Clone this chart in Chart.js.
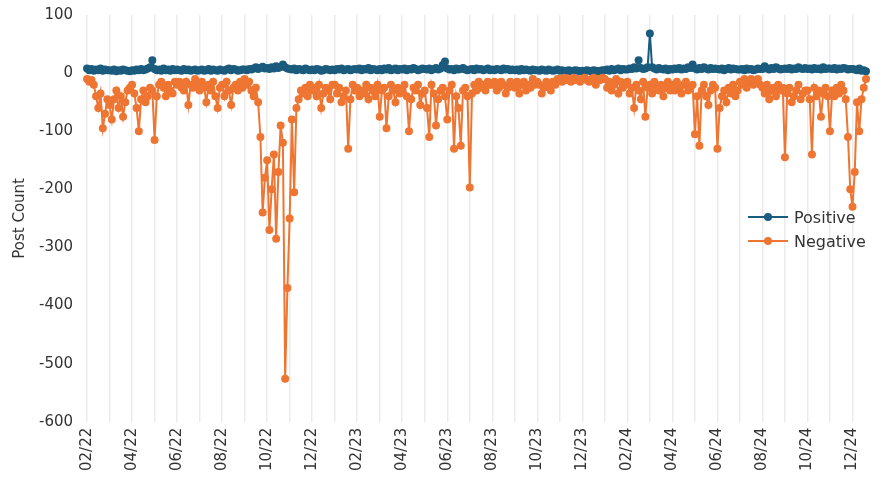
<!DOCTYPE html>
<html>
<head>
<meta charset="utf-8">
<script src="https://cdn.jsdelivr.net/npm/chart.js@4/dist/chart.umd.min.js"></script>
<style>
  html, body { margin: 0; padding: 0; background: #fff; }
  #wrap { position: relative; width: 890px; height: 477px; }
  #legend { position: absolute; left: 748px; top: 205px; font: 16px "DejaVu Sans", sans-serif; color: #333; }
  .item { display: flex; align-items: center; height: 24px; }
  .sym { position: relative; width: 40px; height: 10px; margin-right: 6px; }
  .sym .ln { position: absolute; left: 0; right: 0; top: 4px; height: 2px; }
  .sym .dt { position: absolute; left: 16px; top: 1px; width: 8px; height: 8px; border-radius: 50%; }
</style>
</head>
<body>
<div id="wrap">
  <canvas id="myChart" width="890" height="477"></canvas>
  <div id="legend">
    <div class="item"><div class="sym"><div class="ln" style="background:#1b5b7d"></div><div class="dt" style="background:#1b5b7d"></div></div>Positive</div>
    <div class="item"><div class="sym"><div class="ln" style="background:#ee7532"></div><div class="dt" style="background:#ee7532"></div></div>Negative</div>
  </div>
</div>
<script>
const months = ["02/22","03/22","04/22","05/22","06/22","07/22","08/22","09/22","10/22","11/22","12/22",
  "01/23","02/23","03/23","04/23","05/23","06/23","07/23","08/23","09/23","10/23","11/23","12/23",
  "01/24","02/24","03/24","04/24","05/24","06/24","07/24","08/24","09/24","10/24","11/24","12/24"];
const days = [1, 4, 7, 10, 13, 16, 19, 22, 25, 28];

// negative post counts, 10 samples per month (last month shorter)
const negative = [
  -10,-15,-12,-20,-40,-60,-35,-95,-70,-45,
  -55,-80,-45,-30,-60,-40,-75,-50,-30,-25,
  -20,-35,-60,-100,-45,-30,-50,-40,-25,-30,
  -115,-40,-20,-15,-25,-40,-20,-30,-35,-15,
  -20,-15,-25,-30,-15,-55,-20,-25,-10,-20,
  -30,-15,-25,-50,-20,-30,-15,-40,-60,-25,
  -20,-40,-15,-30,-55,-25,-20,-30,-15,-25,
  -10,-20,-15,-30,-40,-25,-50,-110,-240,-180,
  -150,-270,-200,-140,-285,-170,-90,-120,-526,-370,
  -250,-80,-205,-60,-45,-30,-35,-25,-40,-20,
  -30,-25,-40,-20,-60,-35,-25,-30,-45,-20,
  -20,-35,-25,-50,-40,-30,-130,-45,-20,-30,
  -25,-40,-30,-35,-20,-45,-25,-30,-40,-20,
  -75,-30,-25,-95,-40,-20,-30,-50,-25,-35,
  -30,-20,-40,-100,-45,-25,-30,-20,-55,-35,
  -30,-60,-110,-20,-35,-90,-45,-30,-25,-40,
  -80,-30,-20,-130,-40,-60,-125,-30,-25,-40,
  -197,-35,-20,-30,-15,-25,-20,-30,-15,-20,
  -20,-15,-30,-25,-15,-20,-35,-25,-15,-20,
  -25,-15,-35,-20,-15,-30,-20,-25,-10,-20,
  -15,-20,-35,-25,-15,-20,-30,-15,-20,-10,
  -10,-15,-8,-12,-10,-15,-8,-12,-10,-15,
  -10,-8,-12,-15,-10,-8,-20,-10,-12,-8,
  -10,-25,-15,-30,-20,-10,-35,-15,-25,-20,
  -15,-35,-25,-60,-20,-30,-45,-15,-75,-25,
  -20,-35,-15,-25,-30,-20,-40,-25,-15,-30,
  -20,-30,-15,-25,-35,-20,-15,-30,-25,-20,
  -105,-40,-125,-30,-20,-40,-55,-30,-20,-25,
  -130,-60,-40,-30,-50,-25,-35,-20,-40,-30,
  -15,-20,-10,-25,-15,-10,-20,-15,-10,-20,
  -25,-35,-20,-45,-30,-25,-40,-20,-30,-25,
  -145,-35,-25,-50,-40,-30,-20,-45,-35,-30,
  -30,-45,-140,-25,-40,-30,-75,-35,-25,-40,
  -100,-30,-40,-25,-35,-20,-30,-45,-110,-200,
  -230,-170,-50,-100,-45,-25,-10
];

// positive post counts, same sampling
const positive = [
  8,5,7,4,6,5,8,4,6,5,
  5,4,6,3,5,4,6,5,4,3,
  5,4,6,5,7,5,6,8,10,22,
  7,5,6,4,8,5,6,4,7,5,
  6,5,4,7,5,6,4,5,6,4,
  5,6,4,5,7,4,6,5,4,6,
  5,4,6,8,5,7,6,4,5,6,
  6,5,7,6,8,10,7,9,11,8,
  9,7,10,8,12,9,11,15,10,8,
  7,6,8,5,7,6,5,8,6,5,
  6,5,7,6,4,5,7,6,5,6,
  5,7,6,8,5,6,7,5,6,7,
  6,8,5,7,6,9,5,7,6,5,
  7,5,8,6,9,5,6,8,5,7,
  6,8,5,7,6,9,7,5,6,8,
  7,6,8,5,7,9,6,8,14,20,
  8,6,7,5,8,6,7,9,6,5,
  6,7,5,8,6,7,5,6,8,5,
  6,5,7,6,5,8,6,7,5,6,
  5,6,4,7,5,6,5,4,6,5,
  5,4,6,5,4,6,5,4,5,6,
  4,5,3,4,5,3,4,5,4,3,
  4,3,5,4,3,5,4,3,4,5,
  5,6,4,7,5,6,8,5,7,6,
  6,8,7,10,8,22,9,7,8,10,
  68,10,8,6,9,7,6,8,5,7,
  6,8,7,9,6,8,7,10,9,15,
  8,6,9,7,10,8,6,9,7,8,
  7,6,8,5,7,9,6,8,7,6,
  6,7,5,8,6,7,5,6,8,7,
  7,12,8,6,9,7,10,8,6,7,
  8,7,9,6,8,7,10,8,7,9,
  7,8,6,9,7,8,6,10,7,8,
  8,7,9,6,8,7,9,8,6,7,
  7,6,5,8,4,5,3
];

const labels = [];
months.forEach((m) => days.forEach((d) => labels.push(m + "|" + d)));
labels.length = negative.length;

const ctx = document.getElementById("myChart");
new Chart(ctx, {
  type: "line",
  data: {
    labels: labels,
    datasets: [
      {
        label: "Negative",
        data: negative,
        borderColor: "#ee7532",
        backgroundColor: "#ee7532",
        borderWidth: 2,
        pointRadius: 3,
        pointHoverRadius: 3,
      },
      {
        label: "Positive",
        data: positive,
        borderColor: "#1b5b7d",
        backgroundColor: "#1b5b7d",
        borderWidth: 2,
        pointRadius: 3,
        pointHoverRadius: 3,
      },
    ],
  },
  options: {
    responsive: false,
    animation: false,
    layout: { padding: { top: 8, right: 0, left: 7 } },
    plugins: { legend: { display: false }, tooltip: { enabled: false } },
    scales: {
      x: {
        offset: false,
        border: { display: false },
        grid: {
          color: (c) => (c.tick && labels[c.index] && labels[c.index].endsWith("|1") ? "#ebebeb" : "rgba(0,0,0,0)"),
          lineWidth: 1.5,
          drawTicks: false,
        },
        ticks: {
          autoSkip: false,
          maxRotation: 90,
          minRotation: 90,
          color: "#333",
          font: { size: 15, family: "DejaVu Sans" },
          padding: 6,
          callback: function (value, index) {
            const l = labels[index];
            if (!l.endsWith("|1")) return "";
            const m = months.indexOf(l.split("|")[0]);
            return m % 2 === 0 ? months[m] : "";
          },
        },
      },
      y: {
        min: -600,
        max: 100,
        border: { display: false },
        grid: { display: false },
        ticks: { stepSize: 100, color: "#333", font: { size: 15, family: "DejaVu Sans" }, padding: 6 },
        title: { display: true, text: "Post Count", color: "#333", font: { size: 15, family: "DejaVu Sans" } },
      },
    },
  },
});
</script>
</body>
</html>
